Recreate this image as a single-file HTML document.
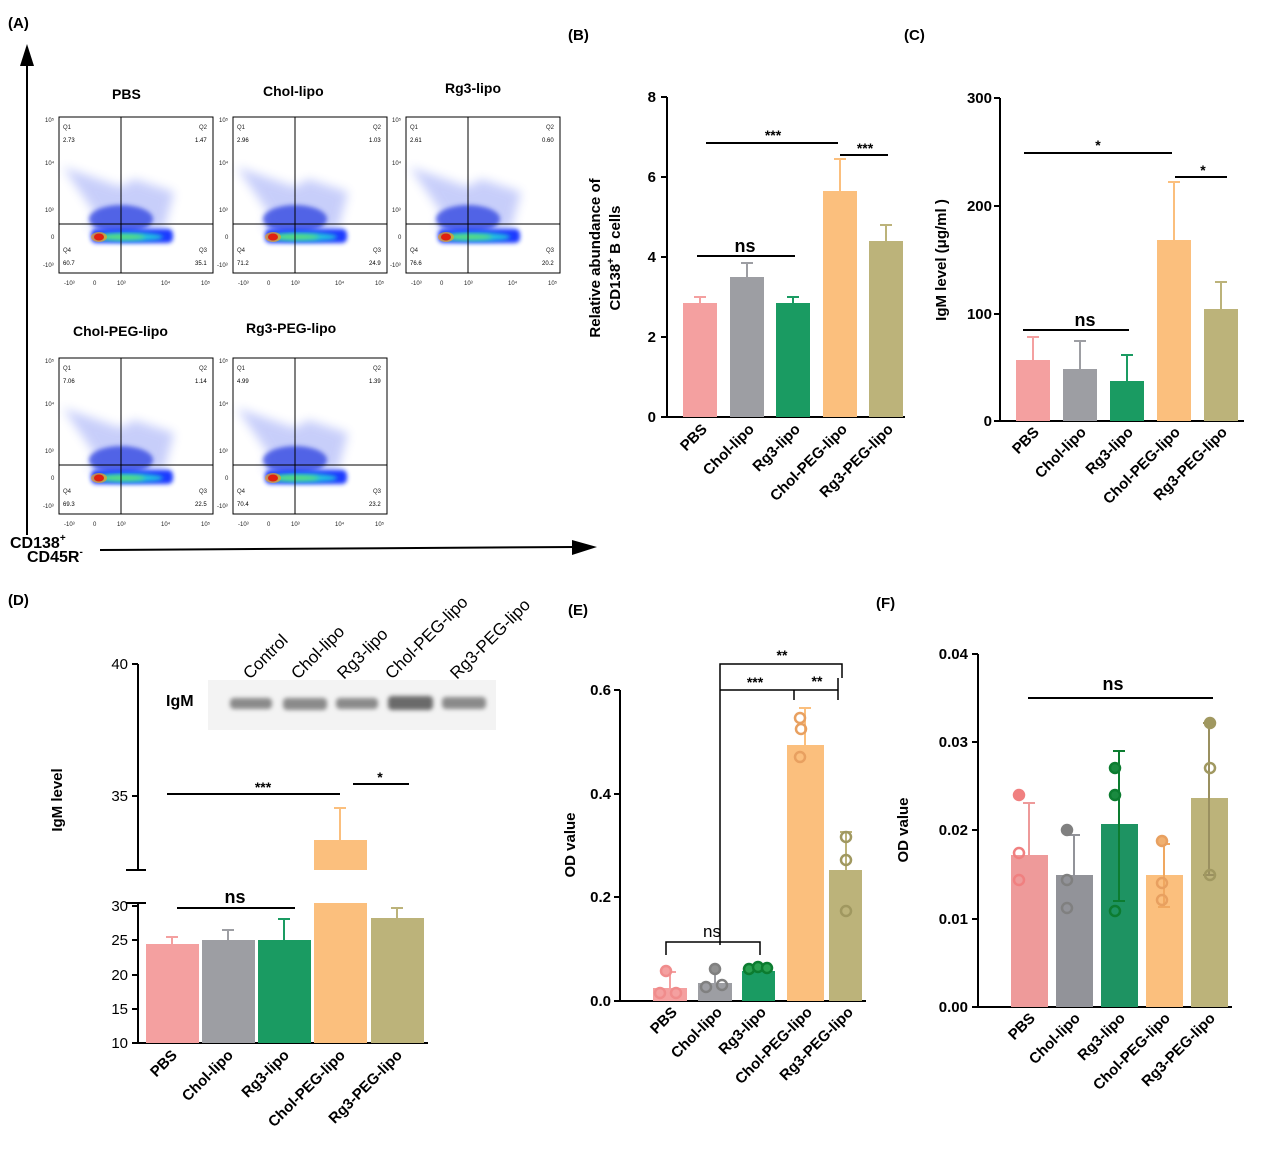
<!DOCTYPE html><html><head><meta charset="utf-8"><style>body{margin:0;background:#fff}svg{display:block;font-family:"Liberation Sans",Arial,sans-serif}</style></head><body>
<svg width="1270" height="1170" viewBox="0 0 1270 1170" xmlns="http://www.w3.org/2000/svg">
<defs>
<filter id="bl" x="-50%" y="-50%" width="200%" height="200%"><feGaussianBlur stdDeviation="2"/></filter>
<filter id="bl2" x="-50%" y="-50%" width="200%" height="200%"><feGaussianBlur stdDeviation="5"/></filter>
<g id="flow">
<rect x="0" y="0" width="154" height="156" fill="#fff" stroke="#000" stroke-width="1"/>
<path d="M4,50 L35,95 L30,112 L105,112 L115,75 L75,62 L62,70 Z" fill="#4a5ff0" opacity="0.3" filter="url(#bl2)"/>
<ellipse cx="62" cy="102" rx="32" ry="14" fill="#2a40e0" opacity="0.75" filter="url(#bl)"/>
<rect x="32" y="112" width="82" height="14" rx="5" fill="#1b3bff" filter="url(#bl)"/>
<ellipse cx="70" cy="120" rx="34" ry="4.5" fill="#20c0e0" filter="url(#bl)"/>
<ellipse cx="62" cy="120" rx="24" ry="2.5" fill="#60e070" filter="url(#bl)"/>
<ellipse cx="40" cy="120" rx="8" ry="5" fill="#f0a020" opacity="0.7"/>
<ellipse cx="40" cy="120" rx="5" ry="3.5" fill="#e02010"/>
<line x1="62" y1="0" x2="62" y2="156" stroke="#000"/>
<line x1="0" y1="107" x2="154" y2="107" stroke="#000"/>
<g font-size="6" fill="#222"><text x="4" y="12">Q1</text><text x="140" y="12">Q2</text><text x="4" y="135">Q4</text><text x="140" y="135">Q3</text>
<text x="-14" y="5">10⁵</text><text x="-14" y="48">10⁴</text><text x="-14" y="95">10³</text><text x="-8" y="122">0</text><text x="-16" y="150">-10³</text>
<text x="5" y="168">-10³</text><text x="34" y="168">0</text><text x="58" y="168">10³</text><text x="102" y="168">10⁴</text><text x="142" y="168">10⁵</text></g>
</g>
</defs>
<g font-weight="bold" font-size="15"><text x="8" y="28">(A)</text><text x="568" y="40">(B)</text><text x="904" y="40">(C)</text><text x="8" y="605">(D)</text><text x="568" y="615">(E)</text><text x="876" y="608">(F)</text></g>
<g font-size="14" font-weight="bold"><text x="112" y="99">PBS</text><text x="263" y="96">Chol-lipo</text><text x="445" y="93">Rg3-lipo</text><text x="73" y="336">Chol-PEG-lipo</text><text x="246" y="333">Rg3-PEG-lipo</text></g>
<use href="#flow" x="59" y="117"/>
<g font-size="6"><text x="63" y="142">2.73</text><text x="195" y="142">1.47</text><text x="63" y="265">60.7</text><text x="195" y="265">35.1</text></g>
<use href="#flow" x="233" y="117"/>
<g font-size="6"><text x="237" y="142">2.96</text><text x="369" y="142">1.03</text><text x="237" y="265">71.2</text><text x="369" y="265">24.9</text></g>
<use href="#flow" x="406" y="117"/>
<g font-size="6"><text x="410" y="142">2.61</text><text x="542" y="142">0.60</text><text x="410" y="265">76.6</text><text x="542" y="265">20.2</text></g>
<use href="#flow" x="59" y="358"/>
<g font-size="6"><text x="63" y="383">7.06</text><text x="195" y="383">1.14</text><text x="63" y="506">69.3</text><text x="195" y="506">22.5</text></g>
<use href="#flow" x="233" y="358"/>
<g font-size="6"><text x="237" y="383">4.99</text><text x="369" y="383">1.39</text><text x="237" y="506">70.4</text><text x="369" y="506">23.2</text></g>
<line x1="27" y1="535" x2="27" y2="62" stroke="#000" stroke-width="2"/><polygon points="27,44 20,66 34,66" fill="#000"/>
<line x1="100" y1="550" x2="575" y2="547" stroke="#000" stroke-width="2"/><polygon points="597,547 572,540 572,555" fill="#000"/>
<text x="10" y="548" font-size="16" font-weight="bold">CD138<tspan font-size="10" dy="-7">+</tspan></text>
<text x="27" y="562" font-size="16" font-weight="bold">CD45R<tspan font-size="10" dy="-7">-</tspan></text>
<!-- Panel B -->
<g stroke="#000" stroke-width="2" fill="none"><path d="M667,97 V417 H905"/><path d="M661,97H667M661,177H667M661,257H667M661,337H667M661,417H667"/></g>
<g font-size="15" font-weight="bold" text-anchor="end"><text x="656" y="102">8</text><text x="656" y="182">6</text><text x="656" y="262">4</text><text x="656" y="342">2</text><text x="656" y="422">0</text></g>
<text transform="translate(600,258) rotate(-90)" text-anchor="middle" font-size="15" font-weight="bold">Relative abundance of</text>
<text transform="translate(620,258) rotate(-90)" text-anchor="middle" font-size="15" font-weight="bold">CD138<tspan font-size="10" dy="-6">+</tspan><tspan dy="6"> B cells</tspan></text>
<g stroke-width="2">
<rect x="683" y="303" width="34" height="114" fill="#f4a0a0"/><path d="M700,303V297M694,297H706" stroke="#f4a0a0"/>
<rect x="730" y="277" width="34" height="140" fill="#9d9ea3"/><path d="M747,277V263M741,263H753" stroke="#9d9ea3"/>
<rect x="776" y="303" width="34" height="114" fill="#1a9b62"/><path d="M793,303V297M787,297H799" stroke="#1a9b62"/>
<rect x="823" y="191" width="34" height="226" fill="#fbbf7d"/><path d="M840,191V159M834,159H846" stroke="#fbbf7d"/>
<rect x="869" y="241" width="34" height="176" fill="#bcb37a"/><path d="M886,241V225M880,225H892" stroke="#bcb37a"/>
</g>
<g stroke="#000" stroke-width="2"><line x1="706" y1="143" x2="838" y2="143"/><line x1="840" y1="155" x2="888" y2="155"/><line x1="697" y1="256" x2="795" y2="256"/></g>
<g font-size="14" font-weight="bold" text-anchor="middle"><text x="773" y="140">***</text><text x="865" y="153">***</text><text x="745" y="252" font-size="18">ns</text></g>
<g font-size="15" font-weight="bold" text-anchor="end">
<text transform="translate(708,430) rotate(-45)">PBS</text><text transform="translate(755,430) rotate(-45)">Chol-lipo</text><text transform="translate(801,430) rotate(-45)">Rg3-lipo</text><text transform="translate(848,430) rotate(-45)">Chol-PEG-lipo</text><text transform="translate(894,430) rotate(-45)">Rg3-PEG-lipo</text></g>
<!-- Panel C -->
<g stroke="#000" stroke-width="2" fill="none"><path d="M1000,98 V421 H1244"/><path d="M994,98H1000M994,206H1000M994,314H1000M994,421H1000"/></g>
<g font-size="15" font-weight="bold" text-anchor="end"><text x="992" y="103">300</text><text x="992" y="211">200</text><text x="992" y="319">100</text><text x="992" y="426">0</text></g>
<text transform="translate(946,260) rotate(-90)" text-anchor="middle" font-size="15" font-weight="bold">IgM level (μg/ml )</text>
<g stroke-width="2">
<rect x="1016" y="360" width="34" height="61" fill="#f4a0a0"/><path d="M1033,360V337M1027,337H1039" stroke="#f4a0a0"/>
<rect x="1063" y="369" width="34" height="52" fill="#9d9ea3"/><path d="M1080,369V341M1074,341H1086" stroke="#9d9ea3"/>
<rect x="1110" y="381" width="34" height="40" fill="#1a9b62"/><path d="M1127,381V355M1121,355H1133" stroke="#1a9b62"/>
<rect x="1157" y="240" width="34" height="181" fill="#fbbf7d"/><path d="M1174,240V182M1168,182H1180" stroke="#fbbf7d"/>
<rect x="1204" y="309" width="34" height="112" fill="#bcb37a"/><path d="M1221,309V282M1215,282H1227" stroke="#bcb37a"/>
</g>
<g stroke="#000" stroke-width="2"><line x1="1024" y1="153" x2="1172" y2="153"/><line x1="1175" y1="177" x2="1227" y2="177"/><line x1="1023" y1="330" x2="1129" y2="330"/></g>
<g font-size="14" font-weight="bold" text-anchor="middle"><text x="1098" y="150">*</text><text x="1203" y="175">*</text><text x="1085" y="326" font-size="18">ns</text></g>
<g font-size="15" font-weight="bold" text-anchor="end">
<text transform="translate(1040,433) rotate(-45)">PBS</text><text transform="translate(1087,433) rotate(-45)">Chol-lipo</text><text transform="translate(1134,433) rotate(-45)">Rg3-lipo</text><text transform="translate(1181,433) rotate(-45)">Chol-PEG-lipo</text><text transform="translate(1228,433) rotate(-45)">Rg3-PEG-lipo</text></g>
<!-- Panel D -->
<g stroke="#000" stroke-width="2" fill="none"><path d="M138,664 V870"/><path d="M138,903 V1043 H428"/><path d="M132,664H138M132,796H138M126,870H146M126,903H146M132,906H138M132,940H138M132,975H138M132,1009H138M132,1043H138"/></g>
<g font-size="15" text-anchor="end"><text x="128" y="669">40</text><text x="128" y="801">35</text><text x="128" y="911">30</text><text x="128" y="945">25</text><text x="128" y="980">20</text><text x="128" y="1014">15</text><text x="128" y="1048">10</text></g>
<text transform="translate(62,800) rotate(-90)" text-anchor="middle" font-size="15" font-weight="bold">IgM level</text>
<rect x="208" y="680" width="288" height="50" fill="#f3f3f3"/>
<g fill="#8a8a8a" filter="url(#bl)"><rect x="230" y="698" width="42" height="11" rx="4"/><rect x="283" y="698" width="44" height="12" rx="4"/><rect x="336" y="698" width="42" height="11" rx="4"/><rect x="388" y="696" width="45" height="14" rx="4" fill="#6a6a6a"/><rect x="442" y="697" width="44" height="12" rx="4"/></g>
<text x="166" y="706" font-size="16" font-weight="bold">IgM</text>
<g font-size="17" text-anchor="start">
<text transform="translate(250,680) rotate(-45)">Control</text><text transform="translate(298,680) rotate(-45)">Chol-lipo</text><text transform="translate(344,680) rotate(-45)">Rg3-lipo</text><text transform="translate(392,680) rotate(-45)">Chol-PEG-lipo</text><text transform="translate(457,680) rotate(-45)">Rg3-PEG-lipo</text></g>
<g stroke-width="2">
<rect x="146" y="944" width="53" height="99" fill="#f4a0a0"/><path d="M172,944V937M166,937H178" stroke="#f4a0a0"/>
<rect x="202" y="940" width="53" height="103" fill="#9d9ea3"/><path d="M228,940V930M222,930H234" stroke="#9d9ea3"/>
<rect x="258" y="940" width="53" height="103" fill="#1a9b62"/><path d="M284,940V919M278,919H290" stroke="#1a9b62"/>
<rect x="314" y="903" width="53" height="140" fill="#fbbf7d"/><rect x="314" y="840" width="53" height="30" fill="#fbbf7d"/><path d="M340,840V808M334,808H346" stroke="#fbbf7d"/>
<rect x="371" y="918" width="53" height="125" fill="#bcb37a"/><path d="M397,918V908M391,908H403" stroke="#bcb37a"/>
</g>
<g stroke="#000" stroke-width="2"><line x1="167" y1="794" x2="340" y2="794"/><line x1="353" y1="784" x2="409" y2="784"/><line x1="177" y1="908" x2="295" y2="908"/></g>
<g font-size="14" font-weight="bold" text-anchor="middle"><text x="263" y="792">***</text><text x="380" y="782">*</text><text x="235" y="903" font-size="18">ns</text></g>
<g font-size="15" font-weight="bold" text-anchor="end">
<text transform="translate(178,1056) rotate(-45)">PBS</text><text transform="translate(234,1056) rotate(-45)">Chol-lipo</text><text transform="translate(290,1056) rotate(-45)">Rg3-lipo</text><text transform="translate(346,1056) rotate(-45)">Chol-PEG-lipo</text><text transform="translate(403,1056) rotate(-45)">Rg3-PEG-lipo</text></g>
<!-- Panel E -->
<g stroke="#000" stroke-width="2" fill="none"><path d="M620,690 V1001 H866"/><path d="M614,690H620M614,794H620M614,897H620M614,1001H620"/></g>
<g font-size="15" font-weight="bold" text-anchor="end"><text x="611" y="695">0.6</text><text x="611" y="799">0.4</text><text x="611" y="902">0.2</text><text x="611" y="1006">0.0</text></g>
<text transform="translate(575,845) rotate(-90)" text-anchor="middle" font-size="15" font-weight="bold">OD value</text>
<g stroke-width="2" fill="none">
<rect x="653" y="988" width="34" height="13" fill="#f4a0a0"/><path d="M670,988V972M664,972H676" stroke="#f4a0a0"/>
<rect x="698" y="983" width="34" height="18" fill="#9d9ea3"/><path d="M715,983V969M709,969H721" stroke="#9d9ea3"/>
<rect x="742" y="971" width="33" height="30" fill="#1a9b62"/><path d="M758,971V967M752,967H764" stroke="#1a9b62"/>
<rect x="787" y="745" width="37" height="256" fill="#fbbf7d"/><path d="M805,745V708M799,708H811" stroke="#fbbf7d"/><path d="M805,745V781" stroke="#fbbf7d"/>
<rect x="829" y="870" width="33" height="131" fill="#bcb37a"/><path d="M846,870V832M840,832H852" stroke="#bcb37a"/><path d="M846,870V913" stroke="#bcb37a"/>
</g>
<g stroke-width="2.5" fill="none">
<circle cx="666" cy="971" r="5" stroke="#f08c8c" fill="#f4a0a0"/><circle cx="660" cy="993" r="5" stroke="#f08c8c"/><circle cx="676" cy="993" r="5" stroke="#f08c8c"/>
<circle cx="715" cy="969" r="5" stroke="#808080" fill="#909090"/><circle cx="706" cy="987" r="5" stroke="#808080"/><circle cx="722" cy="985" r="5" stroke="#808080"/>
<circle cx="749" cy="969" r="5" stroke="#0c7c30" fill="#2aa050"/><circle cx="758" cy="967" r="5" stroke="#0c7c30" fill="#2aa050"/><circle cx="767" cy="968" r="5" stroke="#0c7c30" fill="#2aa050"/>
<circle cx="800" cy="718" r="5" stroke="#e8a060"/><circle cx="801" cy="729" r="5" stroke="#e8a060"/><circle cx="800" cy="757" r="5" stroke="#e8a060"/>
<circle cx="846" cy="837" r="5" stroke="#a09860"/><circle cx="846" cy="860" r="5" stroke="#a09860"/><circle cx="846" cy="911" r="5" stroke="#a09860"/>
</g>
<g stroke="#000" stroke-width="1.5" fill="none"><path d="M666,955V942H760V955"/><path d="M720,945V664H842V678"/><path d="M720,690H838"/><path d="M794,690V700"/><path d="M838,678V700"/></g>
<g font-size="14" text-anchor="middle"><text x="712" y="937" font-size="17">ns</text><text x="782" y="660" font-weight="bold">**</text><text x="755" y="687" font-weight="bold">***</text><text x="817" y="686" font-weight="bold">**</text></g>
<g font-size="15" font-weight="bold" text-anchor="end">
<text transform="translate(678,1013) rotate(-45)">PBS</text><text transform="translate(723,1013) rotate(-45)">Chol-lipo</text><text transform="translate(767,1013) rotate(-45)">Rg3-lipo</text><text transform="translate(813,1013) rotate(-45)">Chol-PEG-lipo</text><text transform="translate(854,1013) rotate(-45)">Rg3-PEG-lipo</text></g>
<!-- Panel F -->
<g stroke="#000" stroke-width="2" fill="none"><path d="M978,654 V1007 H1232"/><path d="M972,654H978M972,742H978M972,830H978M972,919H978M972,1007H978"/></g>
<g font-size="15" font-weight="bold" text-anchor="end"><text x="968" y="659">0.04</text><text x="968" y="747">0.03</text><text x="968" y="835">0.02</text><text x="968" y="924">0.01</text><text x="968" y="1012">0.00</text></g>
<text transform="translate(908,830) rotate(-90)" text-anchor="middle" font-size="15" font-weight="bold">OD value</text>
<g stroke-width="2" fill="none">
<rect x="1011" y="855" width="37" height="152" fill="#ee9a9a"/><path d="M1029,855V803M1023,803H1035M1029,855V906M1023,906H1035" stroke="#ee9a9a"/>
<rect x="1056" y="875" width="37" height="132" fill="#929399"/><path d="M1074,875V835M1068,835H1080M1074,875V914M1068,914H1080" stroke="#929399"/>
<rect x="1101" y="824" width="37" height="183" fill="#1e9362"/><path d="M1119,824V751M1113,751H1125M1119,824V901M1113,901H1125" stroke="#0c7c30"/>
<rect x="1146" y="875" width="37" height="132" fill="#fbbf7d"/><path d="M1164,875V844M1158,844H1170M1164,875V907M1158,907H1170" stroke="#f0a860"/>
<rect x="1191" y="798" width="37" height="209" fill="#bcb37a"/><path d="M1209,798V723M1203,723H1215M1209,798V875M1203,875H1215" stroke="#9a9060"/>
</g>
<g stroke-width="2.5" fill="none">
<circle cx="1019" cy="795" r="5" stroke="#f08080" fill="#f08080"/><circle cx="1019" cy="853" r="5" stroke="#f08080"/><circle cx="1019" cy="880" r="5" stroke="#f08080"/>
<circle cx="1067" cy="830" r="5" stroke="#808080" fill="#808080"/><circle cx="1067" cy="880" r="5" stroke="#808080"/><circle cx="1067" cy="908" r="5" stroke="#808080"/>
<circle cx="1115" cy="768" r="5" stroke="#0c7c30" fill="#1a8a40"/><circle cx="1115" cy="795" r="5" stroke="#0c7c30" fill="#1a8a40"/><circle cx="1115" cy="911" r="5" stroke="#0c7c30"/>
<circle cx="1162" cy="841" r="5" stroke="#e8a060" fill="#f0b070"/><circle cx="1162" cy="883" r="5" stroke="#e8a060"/><circle cx="1162" cy="900" r="5" stroke="#e8a060"/>
<circle cx="1210" cy="723" r="5" stroke="#a09860" fill="#a09860"/><circle cx="1210" cy="768" r="5" stroke="#a09860"/><circle cx="1210" cy="875" r="5" stroke="#a09860"/>
</g>
<line x1="1028" y1="698" x2="1213" y2="698" stroke="#000" stroke-width="2"/>
<text x="1113" y="690" font-size="18" font-weight="bold" text-anchor="middle">ns</text>
<g font-size="15" font-weight="bold" text-anchor="end">
<text transform="translate(1036,1019) rotate(-45)">PBS</text><text transform="translate(1081,1019) rotate(-45)">Chol-lipo</text><text transform="translate(1126,1019) rotate(-45)">Rg3-lipo</text><text transform="translate(1171,1019) rotate(-45)">Chol-PEG-lipo</text><text transform="translate(1216,1019) rotate(-45)">Rg3-PEG-lipo</text></g>
</svg>
</body></html>
